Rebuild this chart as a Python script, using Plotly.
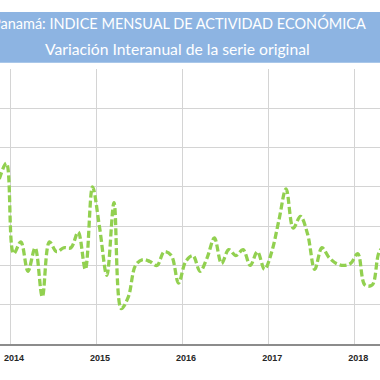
import plotly.graph_objects as go

# Monthly periods (Nov 2013 - May 2018)
months = [
    "2013-11", "2013-12",
    "2014-01", "2014-02", "2014-03", "2014-04", "2014-05", "2014-06",
    "2014-07", "2014-08", "2014-09", "2014-10", "2014-11", "2014-12",
    "2015-01", "2015-02", "2015-03", "2015-04", "2015-05", "2015-06",
    "2015-07", "2015-08", "2015-09", "2015-10", "2015-11", "2015-12",
    "2016-01", "2016-02", "2016-03", "2016-04", "2016-05", "2016-06",
    "2016-07", "2016-08", "2016-09", "2016-10", "2016-11", "2016-12",
    "2017-01", "2017-02", "2017-03", "2017-04", "2017-05", "2017-06",
    "2017-07", "2017-08", "2017-09", "2017-10", "2017-11", "2017-12",
    "2018-01", "2018-02", "2018-03", "2018-04", "2018-05",
]

# Interannual variation (%)
variacion = [
    8.4, 9.2,
    4.6, 5.2, 3.7, 4.9, 2.4, 5.2, 4.7, 4.9, 4.9, 5.7, 3.8, 8.0,
    5.9, 3.5, 7.2, 1.8, 2.4, 4.0, 4.3, 4.2, 4.0, 4.7, 4.5, 3.1,
    4.2, 4.5, 3.7, 4.4, 5.4, 4.1, 4.8, 4.5, 4.8, 4.0, 4.7, 3.8,
    4.7, 6.3, 7.9, 5.9, 6.5, 5.6, 3.8, 4.9, 4.4, 4.1, 4.0, 4.1,
    4.6, 3.0, 3.0, 4.7, 5.1,
]

year_labels = ["2014", "2015", "2016", "2017", "2018"]

title_line1 = "Panamá: INDICE MENSUAL DE ACTIVIDAD ECONÓMICA"
title_line2 = "Variación Interanual de la serie original"

# position of each month on the category scale
xpos = list(range(len(months)))
# year boundaries (between December and January)
year_bounds = [months.index(y + "-01") - 0.5 for y in year_labels]

fig = go.Figure()
fig.add_trace(go.Scatter(
    x=xpos, y=variacion, mode="lines",
    line=dict(color="#92D050", width=3.3, dash="7px,3px",
              shape="spline", smoothing=1),
    showlegend=False, hoverinfo="skip",
))

TOP, BOT = 69, 344
H = BOT - TOP
def py(px):
    return (BOT - px) / H

fig.update_layout(
    width=380, height=380,
    margin=dict(l=0, r=0, t=TOP, b=380 - BOT),
    paper_bgcolor="white", plot_bgcolor="white",
    xaxis=dict(
        range=[0.1, 53.1], autorange=False, automargin=False,
        tickmode="array", tickvals=year_bounds, ticktext=year_labels,
        ticklabelshift=4, ticklabelstandoff=4, tickangle=0, ticks="",
        showgrid=True, gridcolor="#D4D4D4", gridwidth=1,
        zeroline=False,
        showline=True, linecolor="#8C8C8C", linewidth=1.5,
        tickfont=dict(family="Liberation Sans", size=9, color="#262626", weight="bold"),
        fixedrange=True,
    ),
    yaxis=dict(
        range=[0, 14], autorange=False, automargin=False, dtick=2, tick0=0,
        showticklabels=False, ticks="",
        showgrid=True, gridcolor="#D4D4D4", gridwidth=1,
        zeroline=False, fixedrange=True,
    ),
    shapes=[dict(
        type="rect", xref="paper", yref="paper",
        x0=0, x1=1, y0=py(62.7), y1=py(12),
        fillcolor="#8DB4E2", line=dict(width=0), layer="below",
    )],
    annotations=[
        dict(text=title_line1, xref="paper", yref="paper",
             x=367.7 / 380, y=py(23.0), xanchor="right", yanchor="middle",
             showarrow=False,
             font=dict(family="Lato", size=14.5, color="white")),
        dict(text=title_line2, xref="paper", yref="paper",
             x=177.5 / 380, y=py(49.0), xanchor="center", yanchor="middle",
             showarrow=False,
             font=dict(family="Lato", size=15.7, color="white")),
    ],
)

fig.write_html("out.html", config={"displayModeBar": False},
               post_script="document.body.style.margin='0';")
